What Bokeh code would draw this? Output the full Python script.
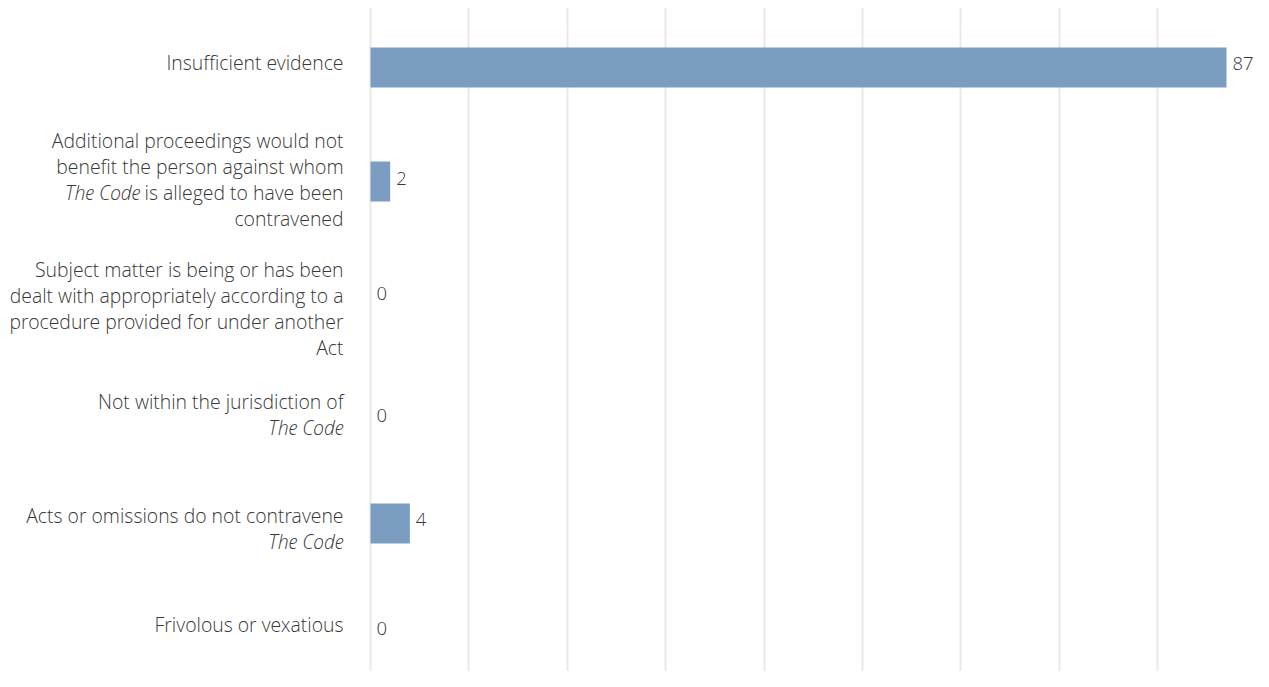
from bokeh.plotting import figure
from bokeh.models import ColumnDataSource, Range1d, FixedTicker
from bokeh.core.properties import value
from bokeh.embed import file_html
from bokeh.resources import INLINE

# ---------------- data ----------------
categories = [
    "Insufficient evidence",
    "Additional proceedings would not benefit the person against whom The Code is alleged to have been contravened",
    "Subject matter is being or has been dealt with appropriately according to a procedure provided for under another Act",
    "Not within the jurisdiction of The Code",
    "Acts or omissions do not contravene The Code",
    "Frivolous or vexatious",
]
counts = [87, 2, 0, 0, 4, 0]
grid_ticks = [0, 10, 20, 30, 40, 50, 60, 70, 80]

# wrapped label lines; *...* marks italic text
label_lines = [
    ["Insufficient evidence"],
    ["Additional proceedings would not", "benefit the person against whom",
     "*The Code* is alleged to have been", "contravened"],
    ["Subject matter is being or has been", "dealt with appropriately according to a",
     "procedure provided for under another", "Act"],
    ["Not within the jurisdiction of", "*The Code*"],
    ["Acts or omissions do not contravene", "*The Code*"],
    ["Frivolous or vexatious"],
]

# ---------------- layout ----------------
W, H = 1253, 671
TOP_BORDER = 7
ZERO_PX = 370.0
BAR_END_PX = 1226.0          # where the longest bar ends (fits its label)
PX_PER_UNIT = (BAR_END_PX - ZERO_PX) / 87.0
ROW_PX = 114.0
FIRST_ROW_PX = 60.0          # from frame top to first row centre
FONT = "Open Sans Light, Open Sans"
FS = 19.4
VFS = 18.5
LINE_H = 26
TEXT_COLOR = "#383838"
BAR_COLOR = "#7a9dc1"
LIGHT_FACTOR = 0.96          # light face is a bit narrower than regular

frame_h = H - TOP_BORDER
x_start = -ZERO_PX / PX_PER_UNIT
x_end = x_start + W / PX_PER_UNIT
y_top = -FIRST_ROW_PX / ROW_PX
y_bottom = y_top + frame_h / ROW_PX
label_x = x_start + 343 / PX_PER_UNIT
label_shift = [-5, -2, 13, 5, 5, -13]
value_shift = [-4, -3, -2, 6, -4, -9]

# approximate Open Sans advance widths (units per em = 2048)
ADV = {' ': 532, 'a': 1139, 'b': 1255, 'c': 1001, 'd': 1255, 'e': 1149, 'f': 702,
       'g': 1122, 'h': 1257, 'i': 518, 'j': 518, 'k': 1075, 'l': 518, 'm': 1905,
       'n': 1257, 'o': 1237, 'p': 1255, 'q': 1255, 'r': 836, 's': 977, 't': 723,
       'u': 1257, 'v': 1026, 'w': 1593, 'x': 1073, 'y': 1028, 'z': 981}


def text_width(s, size):
    return sum(ADV.get(ch, 1150) for ch in s) / 2048.0 * size * LIGHT_FACTOR


p = figure(width=W, height=H, output_backend="svg", toolbar_location=None,
           x_range=Range1d(x_start, x_end), y_range=Range1d(y_bottom, y_top),
           min_border=0, min_border_left=0, min_border_right=0,
           min_border_top=TOP_BORDER, min_border_bottom=0)
p.outline_line_color = None
p.background_fill_color = "white"
p.border_fill_color = "white"
p.xaxis.visible = False
p.yaxis.visible = False
p.ygrid.grid_line_color = None
p.xgrid.ticker = FixedTicker(ticks=grid_ticks)
p.xgrid.grid_line_color = "#e9e9e9"
p.xgrid.grid_line_width = 2

ypos = list(range(len(categories)))
bars = ColumnDataSource(dict(y=ypos, v=counts, t=[str(c) for c in counts],
                             yo=value_shift))
p.hbar(y="y", left=0, right="v", height=40 / ROW_PX, source=bars,
       fill_color=BAR_COLOR, line_color=None)

p.text(x="v", y="y", text="t", source=bars, x_offset=6, y_offset="yo",
       text_align="left", text_baseline="middle", text_font=value(FONT),
       text_font_size=f"{VFS}px", text_color=TEXT_COLOR)

# category labels
reg = dict(x=[], y=[], text=[], xo=[], yo=[])
ita = dict(x=[], y=[], text=[], xo=[], yo=[])
for k, lines in enumerate(label_lines):
    n = len(lines)
    for i, line in enumerate(lines):
        yo = (i - (n - 1) / 2.0) * LINE_H + label_shift[k]
        if "*" in line:
            parts = line.split("*")
            italic_part = parts[1]
            rest = parts[2].strip()
            if rest:
                reg["x"].append(label_x); reg["y"].append(k); reg["text"].append(rest)
                reg["xo"].append(0); reg["yo"].append(yo)
                w = text_width(" " + rest, FS)
                ita["x"].append(label_x); ita["y"].append(k); ita["text"].append(italic_part)
                ita["xo"].append(-w); ita["yo"].append(yo)
            else:
                ita["x"].append(label_x); ita["y"].append(k); ita["text"].append(italic_part)
                ita["xo"].append(0); ita["yo"].append(yo)
        else:
            reg["x"].append(label_x); reg["y"].append(k); reg["text"].append(line)
            reg["xo"].append(0); reg["yo"].append(yo)

p.text(x="x", y="y", text="text", x_offset="xo", y_offset="yo",
       source=ColumnDataSource(reg), text_align="right", text_baseline="middle",
       text_font=value(FONT), text_font_size=f"{FS}px", text_color=TEXT_COLOR)
p.text(x="x", y="y", text="text", x_offset="xo", y_offset="yo",
       source=ColumnDataSource(ita), text_align="right", text_baseline="middle",
       text_font=value(FONT), text_font_size=f"{FS}px", text_font_style="italic",
       text_color=TEXT_COLOR)

open("out.html", "w").write(file_html(p, INLINE))
